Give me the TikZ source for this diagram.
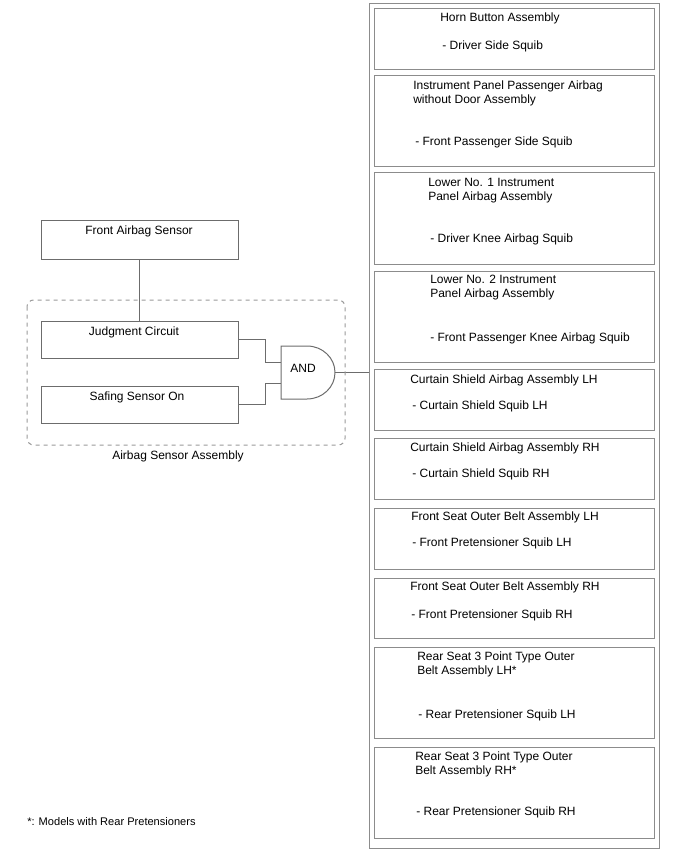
\documentclass[tikz,border=0pt]{standalone}
\usepackage{fontspec}
\setmainfont{Liberation Sans}
\usetikzlibrary{calc}

\begin{document}
\begin{tikzpicture}[
    x=0.75pt, y=-0.75pt,
    wire/.style    = {draw=gray!85!black, line width=0.75pt},
    sqbox/.style   = {draw=gray!90, line width=0.75pt, inner sep=0pt, outer sep=0pt,
                      minimum width=210pt},
    lbox/.style    = {draw=gray!85!black, line width=0.75pt, inner sep=0pt, outer sep=0pt,
                      minimum width=147.75pt},
    txt/.style     = {font=\fontsize{9}{10.5}\selectfont, inner sep=0pt, align=left,
                      yshift=-0.75pt},
    group/.style   = {draw=gray!80, dashed, line width=0.75pt, rounded corners=5pt}
]
\useasboundingbox (0,0) rectangle (688,852);

% Squib panel on the right
\node[draw=gray!90, line width=0.75pt, inner sep=0pt, minimum width=217.5pt,
      minimum height=633pt] (panel) at (514, 426) {};
\foreach \n/\top/\bot/\tx/\ty/\title/\sx/\sy/\sub in {
    1/9/70/440/17/{Horn Button Assembly}/442/45/{- Driver Side Squib},
    2/76/167/413/92/{Instrument Panel Passenger Airbag\\without Door Assembly}/415/141/{- Front Passenger Side Squib},
    3/173/264/428/189.5/{Lower No. 1 Instrument\\Panel Airbag Assembly}/430/238/{- Driver Knee Airbag Squib},
    4/271/362/430/287/{Lower No. 2 Instrument\\Panel Airbag Assembly}/430/337/{- Front Passenger Knee Airbag Squib},
    5/369/430/410/379/{Curtain Shield Airbag Assembly LH}/412/405/{- Curtain Shield Squib LH},
    6/438/499/410/447/{Curtain Shield Airbag Assembly RH}/412/473/{- Curtain Shield Squib RH},
    7/508/569/411/516/{Front Seat Outer Belt Assembly LH}/412/542/{- Front Pretensioner Squib LH},
    8/578/638/410/586/{Front Seat Outer Belt Assembly RH}/411/614/{- Front Pretensioner Squib RH},
    9/647/738/417/663/{Rear Seat 3 Point Type Outer\\Belt Assembly LH*}/418/714/{- Rear Pretensioner Squib LH},
    10/747/838/415/763/{Rear Seat 3 Point Type Outer\\Belt Assembly RH*}/416/811/{- Rear Pretensioner Squib RH}}
{
    \node[sqbox, minimum height={0.75pt*(\bot-\top)}] (sq\n) at (514, {(\top+\bot)/2}) {};
    \node[txt, anchor=west] (sq\n-title) at (\tx, \ty) {\title};
    \node[txt, anchor=west] (sq\n-sub) at (\sx, \sy) {\sub};
}

% Sensor side
\node[lbox, minimum height=28.5pt] (fas) at (139.5, 240) {};
\node[txt] (fas-t) at (139, 230) {Front Airbag Sensor};
\node[lbox, minimum height=27.75pt] (jc) at (139.5, 339.5) {};
\node[txt] (jc-t) at (134, 331) {Judgment Circuit};
\node[lbox, minimum height=27.75pt] (sf) at (139.5, 404.5) {};
\node[txt] (sf-t) at (137, 396) {Safing Sensor On};
\draw[wire] (fas) -- (jc);

% AND gate
\coordinate (in1) at (281, 362);
\coordinate (in2) at (281, 383);
\coordinate (out) at (335, 372.5);
\draw[wire, fill=white] (281, 346) -- (307, 346)
    arc[start angle=90, end angle=-90, x radius=21pt, y radius=19.875pt]
    -- (281, 399) -- cycle;
\node[txt] (and) at (303, 367) {AND};
\draw[wire] (jc.east) -- ++(27, 0) |- (in1);
\draw[wire] (sf.east) -- ++(27, 0) |- (in2);
\draw[wire] (out) -- (out -| panel.west);

% Sensor assembly enclosure
\draw[group] (27, 300) rectangle (345, 445);
\node[txt] (asm) at (178, 455) {Airbag Sensor Assembly};

\node[txt, anchor=west, font=\fontsize{8.3}{10}\selectfont] (note) at (27, 821)
    {*: Models with Rear Pretensioners};

\end{tikzpicture}
\end{document}
